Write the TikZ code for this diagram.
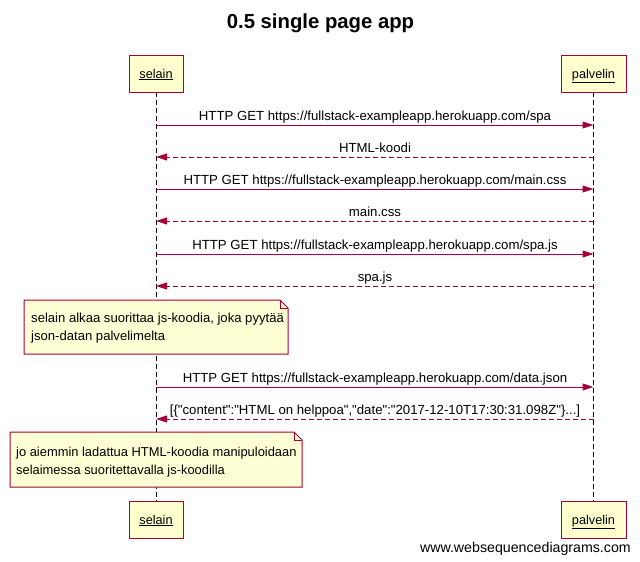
\documentclass[tikz,border=0pt]{standalone}
\usepackage{fontspec}
\setmainfont{Liberation Sans}[Ligatures=TeXOff]
\usetikzlibrary{arrows.meta}
\definecolor{wsdred}{HTML}{A80036}
\definecolor{partfill}{HTML}{FEFECE}
\definecolor{notefill}{HTML}{FFFFD6}
\begin{document}
\begin{tikzpicture}[x=1pt,y=-1pt,
  participant/.style={draw=wsdred,fill=partfill,line width=1pt,minimum width=54pt,minimum height=37pt,inner sep=0pt,font=\fontsize{12.5}{14}\selectfont},
  lifeline/.style={draw=black,line width=0.9pt,dash pattern=on 5pt off 3pt},
  msg/.style={draw=wsdred,line width=1pt,-{Triangle[length=11pt,width=7pt]}},
  reply/.style={draw=wsdred,line width=1pt,dash pattern=on 5pt off 3pt,-{Triangle[length=11pt,width=7pt]}},
  msglabel/.style={anchor=base,inner sep=0pt,font=\fontsize{13.2}{15}\selectfont},
  notebox/.style={draw=wsdred,fill=notefill,line width=1pt,line join=miter},
  notetext/.style={anchor=base west,inner sep=0pt,font=\fontsize{13.1}{15}\selectfont},
  parttext/.style={anchor=base,inner sep=0pt,font=\fontsize{12.7}{14}\selectfont}
]
\useasboundingbox (0,0) rectangle (640,562);
\fill[white] (0,0) rectangle (640,562);

\node[inner sep=0pt,font=\bfseries\fontsize{20.3}{24}\selectfont] (title) at (320.5,23) {0.5 single page app};

% lifelines
\coordinate (sTop) at (156,92);
\coordinate (sBot) at (156,501);
\coordinate (pTop) at (593.5,92);
\coordinate (pBot) at (593.5,501);
\draw[lifeline] (sTop) -- (sBot);
\draw[lifeline] (pTop) -- (pBot);

% participants
\node[participant] (selainTop) at (156,73.5) {};
\node[parttext] (selainTopT) at (156,78) {\underline{selain}};
\node[participant,minimum width=65pt] (palvelinTop) at (593.5,73.5) {};
\node[parttext] (palvelinTopT) at (593.5,78) {\underline{palvelin}};
\node[participant] (selainBot) at (156,519.5) {};
\node[parttext] (selainBotT) at (156,524) {\underline{selain}};
\node[participant,minimum width=65pt] (palvelinBot) at (593.5,519.5) {};
\node[parttext] (palvelinBotT) at (593.5,524) {\underline{palvelin}};

% messages
\foreach \i/\y in {1/125,2/157,3/189,4/221,5/254,6/286,7/387,8/419}{
  \coordinate (s\i) at (156,\y);
  \coordinate (p\i) at (593.5,\y);
}
\draw[msg] (s1) -- (p1);
\node[msglabel] (l1) at (375,120) {HTTP GET https://fullstack-exampleapp.herokuapp.com/spa};
\draw[reply] (p2) -- (s2);
\node[msglabel] (l2) at (375,152) {HTML-koodi};
\draw[msg] (s3) -- (p3);
\node[msglabel] (l3) at (375,184) {HTTP GET https://fullstack-exampleapp.herokuapp.com/main.css};
\draw[reply] (p4) -- (s4);
\node[msglabel] (l4) at (375,216) {main.css};
\draw[msg] (s5) -- (p5);
\node[msglabel] (l5) at (375,249) {HTTP GET https://fullstack-exampleapp.herokuapp.com/spa.js};
\draw[reply] (p6) -- (s6);
\node[msglabel] (l6) at (375,281) {spa.js};

% note 1
\draw[notebox] (24,300) -- (280,300) -- (288,308) -- (288,354) -- (24,354) -- cycle;
\draw[draw=wsdred,line width=1pt] (280,300) -- (280,308) -- (288,308);
\node[notetext] (n1a) at (31,322) {selain alkaa suorittaa js-koodia, joka pyytää};
\node[notetext] (n1b) at (31,340) {json-datan palvelimelta};

\draw[msg] (s7) -- (p7);
\node[msglabel] (l7) at (375,382) {HTTP GET https://fullstack-exampleapp.herokuapp.com/data.json};
\draw[reply] (p8) -- (s8);
\node[msglabel] (l8) at (375,414) {[\{"content":"HTML on helppoa","date":"2017-12-10T17:30:31.098Z"\}...]};

% note 2
\draw[notebox] (10,432) -- (294,432) -- (302,440) -- (302,487) -- (10,487) -- cycle;
\draw[draw=wsdred,line width=1pt] (294,432) -- (294,440) -- (302,440);
\node[notetext,font=\fontsize{12.9}{15}\selectfont] (n2a) at (16,456) {jo aiemmin ladattua HTML-koodia manipuloidaan};
\node[notetext,font=\fontsize{12.9}{15}\selectfont] (n2b) at (16,474) {selaimessa suoritettavalla js-koodilla};

\node[anchor=base east,inner sep=0pt,font=\fontsize{14.2}{16}\selectfont] (footer) at (631,552) {www.websequencediagrams.com};
\end{tikzpicture}
\end{document}
